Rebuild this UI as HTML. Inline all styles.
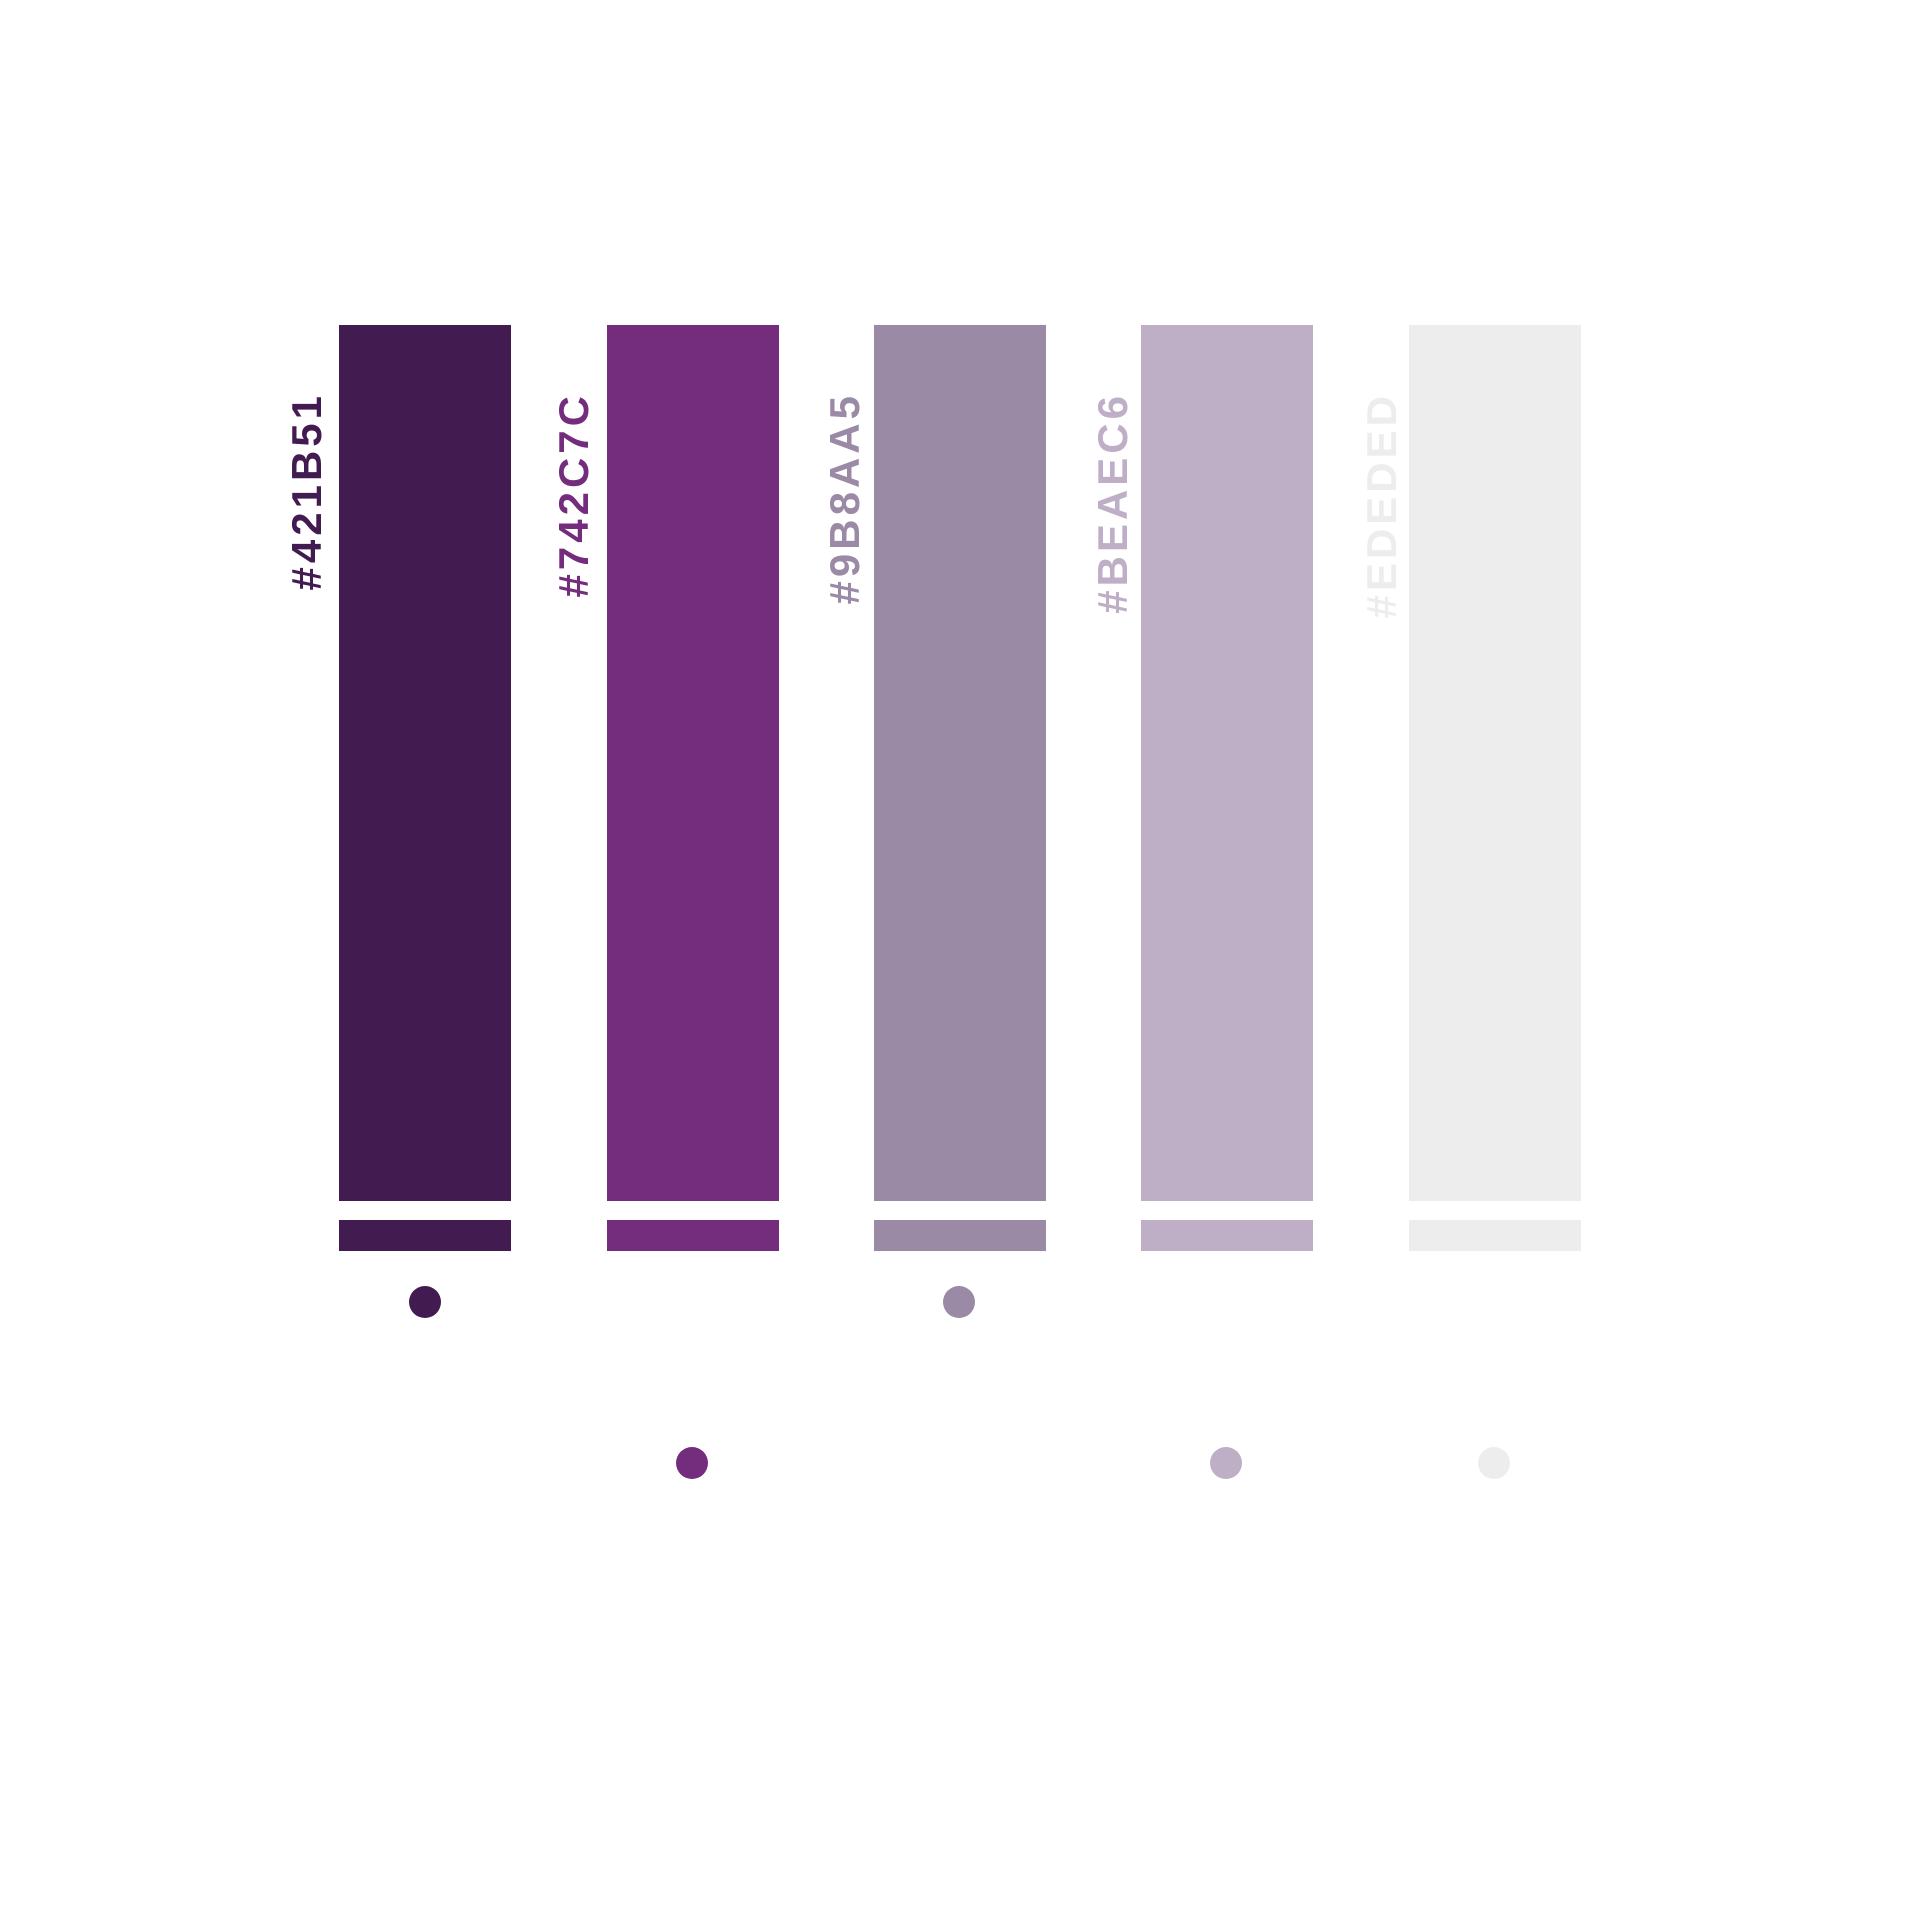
<!DOCTYPE html>
<html><head><meta charset="utf-8"><style>html,body{margin:0;padding:0;background:#fff}svg{display:block}</style></head>
<body>
<svg width="1920" height="1920" viewBox="0 0 1920 1920" xmlns="http://www.w3.org/2000/svg">
<rect width="1920" height="1920" fill="#fff"/>
<g font-family="Liberation Sans, sans-serif" font-weight="bold" font-size="42" letter-spacing="4" text-anchor="end">
<rect x="339" y="325" width="172" height="876" fill="#421B51"/>
<rect x="339" y="1220" width="172" height="31" fill="#421B51"/>
<circle cx="425" cy="1302" r="16" fill="#421B51"/>
<text transform="translate(321,392) rotate(-90)" fill="#421B51">#421B51</text>

<rect x="607" y="325" width="172" height="876" fill="#742C7C"/>
<rect x="607" y="1220" width="172" height="31" fill="#742C7C"/>
<circle cx="692" cy="1463" r="16" fill="#742C7C"/>
<text transform="translate(588,392) rotate(-90)" fill="#742C7C">#742C7C</text>

<rect x="874" y="325" width="172" height="876" fill="#9B8AA5"/>
<rect x="874" y="1220" width="172" height="31" fill="#9B8AA5"/>
<circle cx="959" cy="1302" r="16" fill="#9B8AA5"/>
<text transform="translate(859,392) rotate(-90)" fill="#9B8AA5">#9B8AA5</text>

<rect x="1141" y="325" width="172" height="876" fill="#BEAEC6"/>
<rect x="1141" y="1220" width="172" height="31" fill="#BEAEC6"/>
<circle cx="1226" cy="1463" r="16" fill="#BEAEC6"/>
<text transform="translate(1127,392) rotate(-90)" fill="#BEAEC6">#BEAEC6</text>

<rect x="1409" y="325" width="172" height="876" fill="#EDEDED"/>
<rect x="1409" y="1220" width="172" height="31" fill="#EDEDED"/>
<circle cx="1494" cy="1463" r="16" fill="#EDEDED"/>
<text transform="translate(1396,392) rotate(-90)" fill="#EDEDED">#EDEDED</text>
</g>
</svg>
</body></html>
